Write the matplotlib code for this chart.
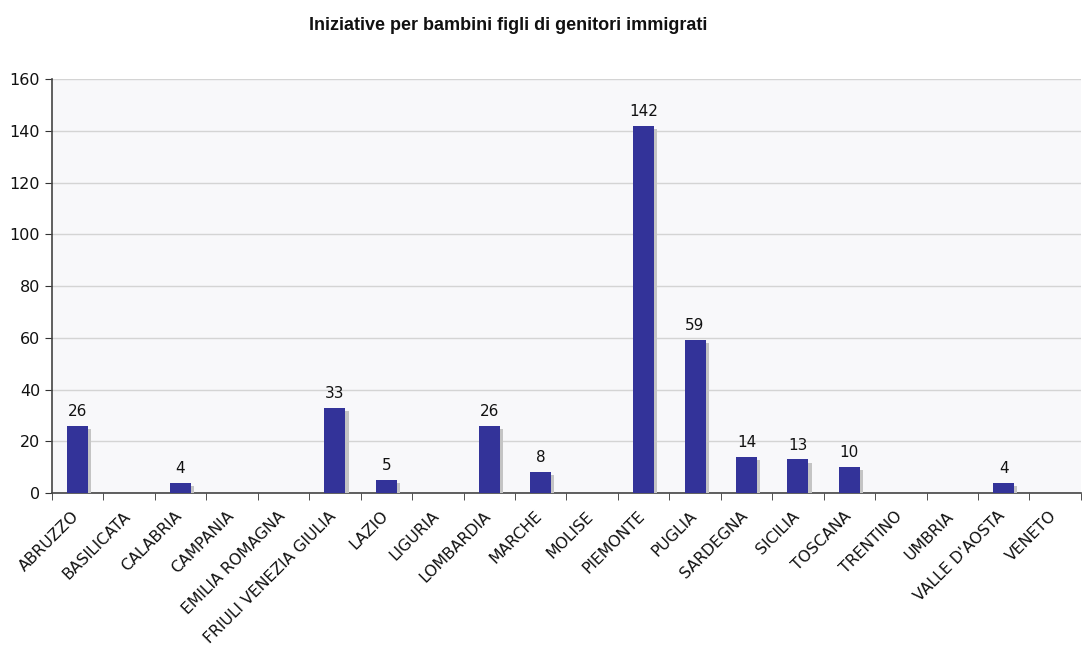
import numpy as np
import matplotlib
matplotlib.use("Agg")
import matplotlib.pyplot as plt
import matplotlib.patheffects as pe

regioni = ["ABRUZZO", "BASILICATA", "CALABRIA", "CAMPANIA", "EMILIA ROMAGNA",
           "FRIULI VENEZIA GIULIA", "LAZIO", "LIGURIA", "LOMBARDIA", "MARCHE",
           "MOLISE", "PIEMONTE", "PUGLIA", "SARDEGNA", "SICILIA", "TOSCANA",
           "TRENTINO", "UMBRIA", "VALLE D'AOSTA", "VENETO"]
iniziative = [26, 0, 4, 0, 0, 33, 5, 0, 26, 8, 0, 142, 59, 14, 13, 10, 0, 0, 4, 0]
y_ticks = [0, 20, 40, 60, 80, 100, 120, 140, 160]

plt.rcParams['font.family'] = ['DejaVu Sans']

fig = plt.figure(figsize=(10.82, 6.48), dpi=100)
ax = fig.add_axes([0.048, 0.239, 0.951, 0.639])
ax.set_facecolor('#f8f8fa')

x = np.arange(len(regioni))
bars = ax.bar(x, iniziative, width=0.41, color='#333399', zorder=3)
for b in bars:
    b.set_path_effects([pe.SimplePatchShadow(offset=(2.2, -2.2), shadow_rgbFace='#c4c4c4', alpha=1.0),
                        pe.Normal()])

labels = [str(v) if v > 0 else "" for v in iniziative]
ax.bar_label(bars, labels=labels, padding=5, fontsize=11, color='#111111')

ax.set_xlim(-0.5, len(regioni) - 0.5)
ax.set_ylim(0, 160)
ax.set_yticks(y_ticks)
ax.tick_params(axis='y', labelsize=11.5, length=5, color='#333333', labelcolor='#111111')
ax.yaxis.grid(True, color='#d4d4d4', linewidth=1.0, zorder=0)
ax.set_axisbelow(True)

ax.set_xticks(x - 0.12)
ax.set_xticklabels(regioni, rotation=45, ha='right', rotation_mode='anchor', fontsize=11.3, color='#111111')
ax.tick_params(axis='x', length=0, pad=11)
ax.set_xticks(np.arange(len(regioni) + 1) - 0.5, minor=True)
ax.tick_params(axis='x', which='minor', length=5, color='#333333')

for s in ['top', 'right']:
    ax.spines[s].set_visible(False)
for s in ['left', 'bottom']:
    ax.spines[s].set_color('#444444')
    ax.spines[s].set_linewidth(1.2)

fig.text(0.47, 0.961, "Iniziative per bambini figli di genitori immigrati",
         ha='center', va='center', fontsize=13, fontweight='bold',
         family=['Liberation Sans', 'DejaVu Sans'], color='#111111')

fig.savefig("out.png", dpi=100, facecolor='white')
